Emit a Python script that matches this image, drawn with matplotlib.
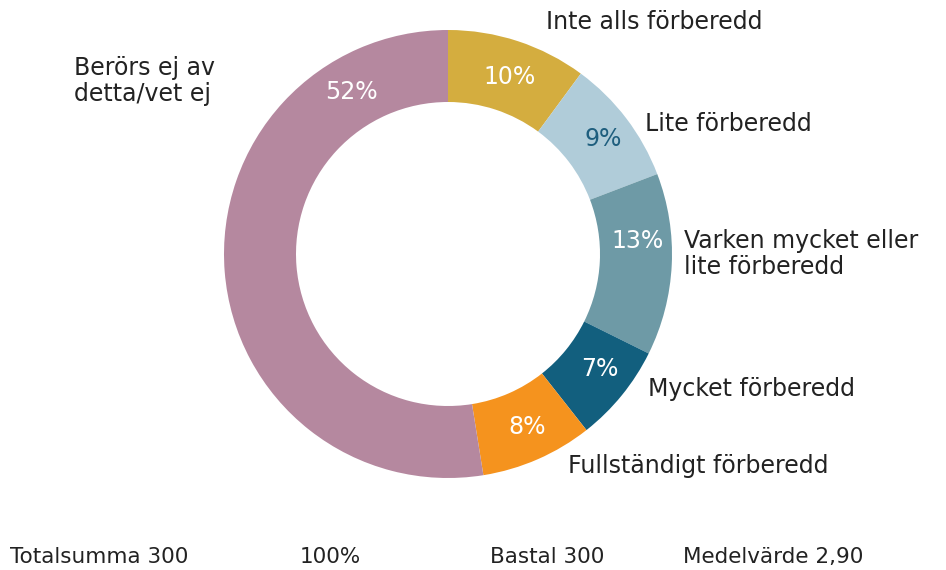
import matplotlib
matplotlib.use("Agg")
import matplotlib.pyplot as plt
import numpy as np

categories = ["Inte alls förberedd", "Lite förberedd", "Varken mycket eller\nlite förberedd",
              "Mycket förberedd", "Fullständigt förberedd", "Berörs ej av\ndetta/vet ej"]
values = [10, 9, 13, 7, 8, 52]
pct_labels = ["10%", "9%", "13%", "7%", "8%", "52%"]
colors = ["#D4AD3F", "#B0CCD9", "#6E9AA6", "#125F7E", "#F5931E", "#B5889F"]
pct_colors = ["white", "#1E5E7E", "white", "white", "white", "white"]
footer = ["Totalsumma 300", "100%", "Bastal 300", "Medelvärde 2,90"]

W, H = 946, 570
cx, cy, R = 448, 254, 224
fig = plt.figure(figsize=(W / 100, H / 100), dpi=100)
ax = fig.add_axes([(cx - R) / W, (H - cy - R) / H, 2 * R / W, 2 * R / H])

wedges, _ = ax.pie(values, colors=colors, startangle=90, counterclock=False, radius=1,
                   wedgeprops=dict(width=72 / 224, linewidth=0))
ax.set_xlim(-1, 1)
ax.set_ylim(-1, 1)
ax.set_aspect("equal")
ax.axis("off")

def px2d(px, py):
    return (px - cx) / R, (cy - py) / R

# percent label positions (pixel coords in the reference)
pct_pos = [(510, 77), (603, 139), (638, 241), (600, 369), (527, 427), (351, 92)]
for t, c, (px, py) in zip(pct_labels, pct_colors, pct_pos):
    x, y = px2d(px, py)
    ax.text(x, y, t, ha="center", va="center", color=c, fontsize=17)

label_pos = [(546, 22), (645, 124), (684, 254), (648, 389), (568, 466), (74, 81)]
for t, (px, py) in zip(categories, label_pos):
    x, y = px2d(px, py)
    ax.text(x, y, t, ha="left", va="center", fontsize=17, color="#222222",
            linespacing=1.1, clip_on=False)

foot_x = [10, 300, 490, 683]
for t, px in zip(footer, foot_x):
    fig.text(px / W, 1 - 557 / H, t, ha="left", va="center", fontsize=15.5,
             color="#222222")

fig.savefig("out.png", dpi=100)
